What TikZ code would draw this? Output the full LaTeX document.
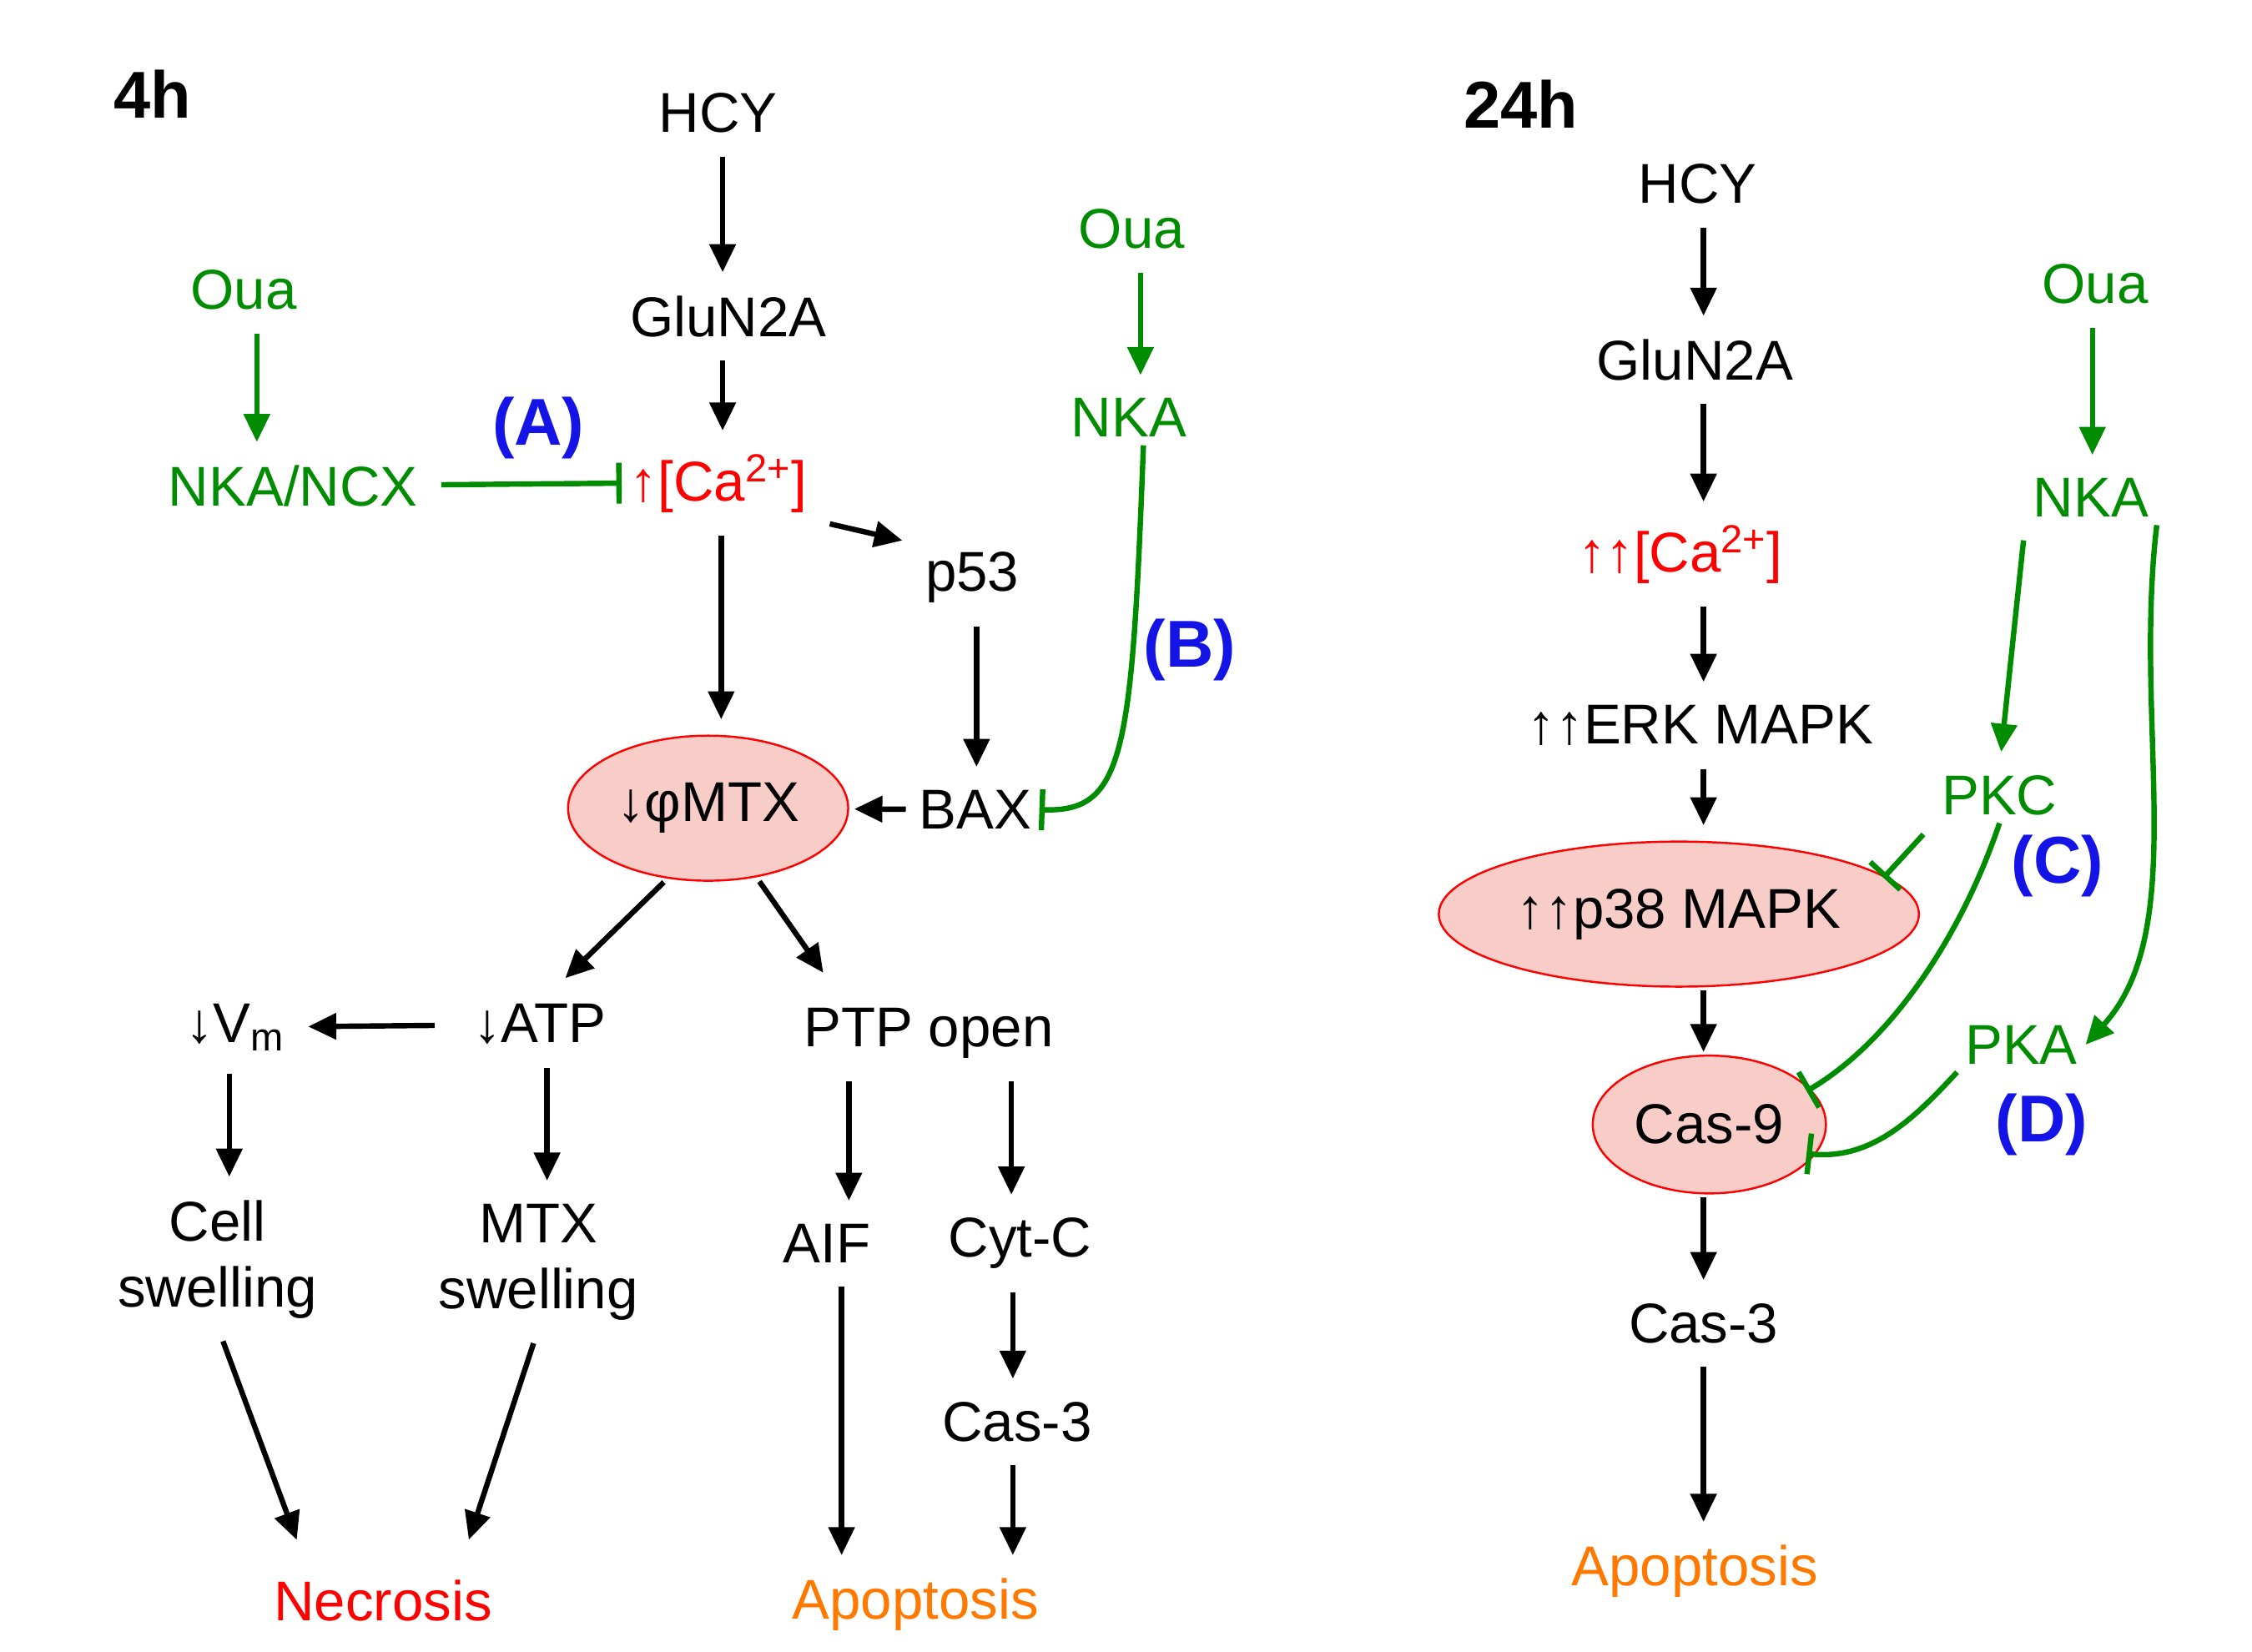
\documentclass[tikz,border=0pt]{standalone}
\usepackage{fontspec}
\setmainfont{Liberation Sans}
\usetikzlibrary{arrows.meta,shapes.geometric,calc}
\definecolor{gr}{RGB}{0,140,0}
\definecolor{bl}{RGB}{20,20,230}
\definecolor{org}{RGB}{255,120,0}
\definecolor{pk}{RGB}{248,205,200}
\begin{document}
\begin{tikzpicture}[x=0.02cm,y=-0.02cm,
 t/.style={font=\fontsize{22}{26}\selectfont,inner sep=3pt},
 g/.style={t,text=gr},
 lab/.style={font=\fontsize{26}{30}\selectfont\bfseries,text=bl,inner sep=0pt},
 el/.style={ellipse,draw=red,fill=pk,line width=0.8pt,t},
 ar/.style={line width=2.1pt,-{Triangle[length=11pt,width=10pt]},shorten >=6pt,shorten <=6pt},
 ga/.style={ar,draw=gr},
 gb/.style={line width=2.1pt,draw=gr,-{Bar[width=16pt]},shorten <=6pt},
 gc/.style={line width=2.1pt,draw=gr,-{Bar[width=16pt]}}]
\useasboundingbox (0,0) rectangle (1552,1138);
% 4h
\node[font=\fontsize{26}{30}\selectfont\bfseries] (h4) at (105,65) {4h};
\node[t] (hcy) at (495,78) {HCY};
\node[t] (glu) at (502,218) {GluN2A};
\node[t,text=red] (ca) at (495,333) {↑[Ca\textsuperscript{2+}]};
\node[g] (oua1) at (168,200) {Oua};
\node[g] (ncx) at (202,335) {NKA/NCX};
\node[lab] (A) at (371,295) {(A)};
\node[g] (oua2) at (780,158) {Oua};
\node[g] (nka1) at (778,288) {NKA};
\node[t] (p53) at (670,398) {p53};
\node[t] (bax) at (672,558) {BAX};
\node[lab] (B) at (820,448) {(B)};
\node[el,minimum width=3.8cm,minimum height=2cm] (mtx) at (488,557) {↓φMTX};
\node[t] (vm) at (162,708) {↓V$_{\mathrm{m}}$};
\node[t] (atp) at (372,706) {↓ATP};
\node[t] (ptp) at (640,712) {PTP open};
\node[t,align=center] (cell) at (150,868) {Cell\\swelling};
\node[t,align=center] (mtxs) at (371,870) {MTX\\swelling};
\node[t] (aif) at (570,857) {AIF};
\node[t] (cytc) at (703,857) {Cyt-C};
\node[t] (cas3a) at (701,980) {Cas-3};
\node[t,text=red] (nec) at (264,1103) {Necrosis};
\node[t,text=org] (apo1) at (631,1106) {Apoptosis};
\draw[ar] (hcy.south -| 498,0) -- (glu.north -| 498,0);
\draw[ar] (glu.south -| 498,0) -- (ca.north -| 498,0);
\draw[ga] (oua1.south -| 177,0) -- (ncx.north -| 177,0);
\draw[gb] (ncx) -- (ca.west);
\draw[ga] (oua2.south -| 786,0) -- (nka1.north -| 786,0);
\draw[gc] (nka1.south -| 788,0) .. controls (780,520) and (775,560) .. (bax.east);
\draw[ar] (ca.south east) -- (p53.north west);
\draw[ar] (p53.south -| 673,0) -- (bax.north -| 673,0);
\draw[ar] (ca.south -| 497,0) -- (mtx.north -| 497,0);
\draw[ar,shorten <=2pt,shorten >=2pt] (bax) -- (mtx);
\draw[ar,shorten <=2pt] (mtx.-120) -- ($(atp.north)+(10,-5)$);
\draw[ar,shorten <=2pt] (mtx.-55) -- ($(ptp.north west)+(25,-10)$);
\draw[ar,shorten <=12pt] (atp) -- (vm);
\draw[ar] (vm.south -| 158,0) -- (cell.north -| 158,0);
\draw[ar] (atp.south -| 377,0) -- (mtxs.north -| 377,0);
\draw[ar] (ptp.south -| 585,0) -- (aif.north -| 585,0);
\draw[ar] (ptp.south -| 697,0) -- (cytc.north -| 697,0);
\draw[ar] (cell.south) -- ($(nec.north west)+(25,-12)$);
\draw[ar] (mtxs.south) -- ($(nec.north east)+(-25,-12)$);
\draw[ar] (aif.south -| 580,0) -- (apo1.north -| 580,0);
\draw[ar] (cytc.south -| 698,0) -- (cas3a.north -| 698,0);
\draw[ar] (cas3a.south -| 698,0) -- (apo1.north -| 698,0);
% 24h
\node[font=\fontsize{26}{30}\selectfont\bfseries] (h24) at (1048,72) {24h};
\node[t] (hcy2) at (1170,127) {HCY};
\node[t] (glu2) at (1168,248) {GluN2A};
\node[t,text=red] (ca2) at (1158,382) {↑↑[Ca\textsuperscript{2+}]};
\node[t] (erk) at (1172,500) {↑↑ERK MAPK};
\node[g] (oua3) at (1444,196) {Oua};
\node[g] (nka2) at (1441,343) {NKA};
\node[g] (pkc) at (1378,548) {PKC};
\node[g] (pka) at (1393,720) {PKA};
\node[lab] (C) at (1418,597) {(C)};
\node[lab] (D) at (1407,775) {(D)};
\node[el,minimum width=5.7cm,minimum height=2cm] (p38) at (1157,630) {↑↑p38 MAPK};
\node[el,minimum width=2.96cm,minimum height=1.9cm] (cas9) at (1178,775) {Cas-9};
\node[t] (cas3b) at (1174,912) {Cas-3};
\node[t,text=org] (apo2) at (1168,1083) {Apoptosis};
\draw[ar] (hcy2.south -| 1174,0) -- (glu2.north -| 1174,0);
\draw[ar] (glu2.south -| 1174,0) -- (ca2.north -| 1174,0);
\draw[ar] (ca2.south -| 1174,0) -- (erk.north -| 1174,0);
\draw[ar] (erk.south -| 1174,0) -- (p38.north -| 1174,0);
\draw[ar,shorten <=1pt,shorten >=1pt] (p38.south -| 1174,0) -- (cas9.north -| 1174,0);
\draw[ar,shorten <=1pt] (cas9.south -| 1174,0) -- (cas3b.north -| 1174,0);
\draw[ar] (cas3b.south -| 1174,0) -- (apo2.north -| 1174,0);
\draw[ga] (oua3.south -| 1442,0) -- (nka2.north -| 1442,0);
\draw[ga] (nka2.south west) -- (pkc.north);
\draw[line width=2.1pt,draw=gr,-{Triangle[length=11pt,width=10pt]}] (nka2.south east) .. controls (1470,500) and (1510,640) .. (pka.east);
\draw[gb] (pkc.south west) -- (1298,605);
\draw[gc] (pkc.south) .. controls (1350,650) and (1300,720) .. (1245,752);
\draw[gc] (pka.south west) .. controls (1320,770) and (1290,800) .. (1245,795);
\end{tikzpicture}
\end{document}
